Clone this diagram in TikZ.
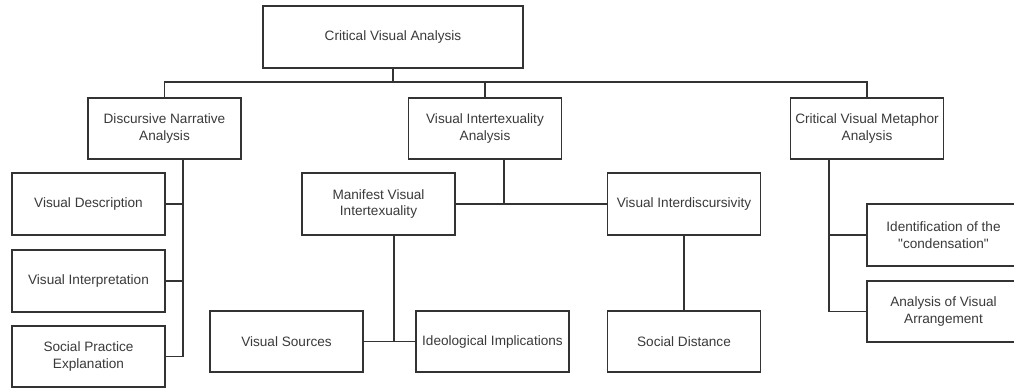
\documentclass[tikz,border=0pt]{standalone}
\usepackage{fontspec}
\setmainfont{Liberation Sans}
\newfontfamily\lsplain{Liberation Sans}
\definecolor{linecol}{HTML}{333333}
\definecolor{textcol}{HTML}{3A3A3A}
\begin{document}
\begin{tikzpicture}[x=1pt,y=-1pt,
  box/.style={draw=linecol, line width=1.6pt, fill=white, rectangle, minimum width=153pt, minimum height=61.5pt,
    align=center, inner sep=2pt, text=textcol, font=\fontsize{13.6}{16.5}\selectfont},
  conn/.style={draw=linecol, line width=1.6pt}]
\useasboundingbox (0,0) rectangle (1014,389);
\clip (0,0) rectangle (1014,389);
% level 0
\node[box, minimum width=260pt, minimum height=62pt] (cva) at (393,37) {Critical Visual Analysis};
% level 1
\node[box] (dna) at (164.5,128.5) {Discursive Narrative\\Analysis};
\node[box] (via) at (485,128.5) {Visual Intertexuality\\Analysis};
\node[box] (cvma) at (867,128.5) {Critical Visual Metaphor\\Analysis};
% left branch
\node[box] (vd) at (88.5,204) {Visual Description};
\node[box] (vi) at (88.5,281) {Visual Interpretation};
\node[box] (spe) at (88.5,356.5) {Social Practice\\Explanation};
% middle branch
\node[box] (mvi) at (378.5,204) {Manifest Visual\\Intertexuality};
\node[box] (vid) at (684,204) {Visual Interdiscursivity};
\node[box] (vs) at (286.5,341.5) {Visual Sources};
\node[box] (ii) at (492.5,341.5) {Ideological Implications};
\node[box] (sd) at (684,341.5) {Social Distance};
% right branch
\node[box] (idc) at (943.5,235) {Identification of the\\{\lsplain "condensation"}};
\node[box] (ava) at (943.5,311.5) {Analysis of Visual\\Arrangement};
% spine coordinates
\coordinate (bar) at (0,82);
\coordinate (spL) at (183,0);
\coordinate (spM) at (504,0);
\coordinate (spMV) at (394,0);
\coordinate (spR) at (829,0);
% connectors top
\draw[conn] (cva.south) -- (cva.south |- bar);
\draw[conn] (dna.north) -- (dna.north |- bar) -- (cvma.north |- bar) -- (cvma.north);
\draw[conn] (via.north) -- (via.north |- bar);
% left
\draw[conn] (dna.south -| spL) -- (spe.east -| spL);
\draw[conn] (vd.east) -- (vd.east -| spL);
\draw[conn] (vi.east) -- (vi.east -| spL);
\draw[conn] (spe.east) -- (spe.east -| spL);
% middle
\draw[conn] (via.south -| spM) -- (mvi.east -| spM);
\draw[conn] (mvi.east) -- (vid.west);
\draw[conn] (mvi.south -| spMV) -- (vs.east -| spMV);
\draw[conn] (vs.east) -- (ii.west);
\draw[conn] (vid.south) -- (sd.north);
% right
\draw[conn] (cvma.south -| spR) -- (ava.west -| spR);
\draw[conn] (idc.west) -- (idc.west -| spR);
\draw[conn] (ava.west) -- (ava.west -| spR);
\end{tikzpicture}
\end{document}
